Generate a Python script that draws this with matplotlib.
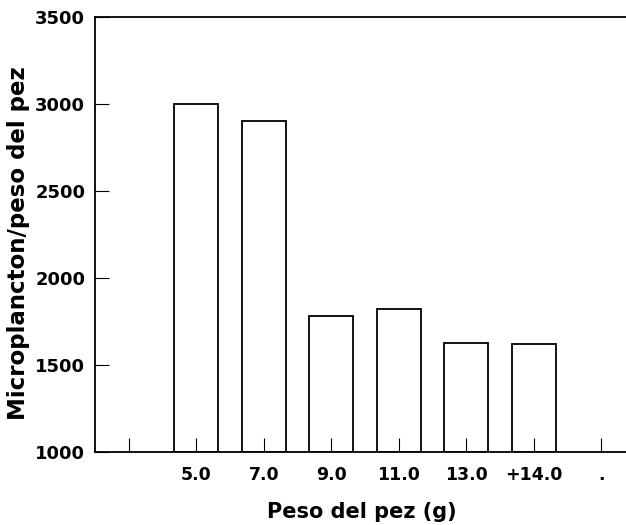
import matplotlib.pyplot as plt

# ================= data =================
categories = ['', '5.0', '7.0', '9.0', '11.0', '13.0', '+14.0', '.']
values = [None, 3000, 2900, 1780, 1820, 1625, 1620, None]
y_ticks = [1000, 1500, 2000, 2500, 3000, 3500]

# ================= style =================
plt.rcParams.update({
    'font.family': ['DejaVu Sans'],
    'font.weight': 'bold',
    'font.size': 12,
})

fig = plt.figure(figsize=(6.26, 5.25), dpi=100)
# right spine falls outside the picture, as in the scan
ax = fig.add_axes([95 / 626, 1 - 452 / 525, 540 / 626, 435 / 525])

xs = [i for i, v in enumerate(values) if v is not None]
hs = [v - 1000 for v in values if v is not None]
ax.bar(xs, hs, bottom=1000, width=0.65, color='white',
       edgecolor='black', linewidth=1.3)

ax.set_xlim(-0.5, 7.5)
ax.set_ylim(1000, 3500)
ax.set_yticks(y_ticks)
ax.set_yticklabels([str(t) for t in y_ticks], fontweight='bold', fontsize=13)
ax.set_xticks(range(len(categories)))
ax.set_xticklabels(categories, fontweight='bold', fontsize=12.5)

ax.tick_params(axis='both', direction='in', length=10, width=0.8)
ax.tick_params(axis='y', pad=7)
ax.tick_params(axis='x', pad=10)

for s in ax.spines.values():
    s.set_linewidth(1.3)

ax.set_xlabel('Peso del pez (g)', fontsize=15, fontweight='bold')
ax.set_ylabel('Microplancton/peso del pez', fontsize=16.5, fontweight='bold')
ax.xaxis.set_label_coords(0.494, -0.115)
ax.yaxis.set_label_coords(-0.12, 0.48)

fig.savefig('out.png', dpi=100)
